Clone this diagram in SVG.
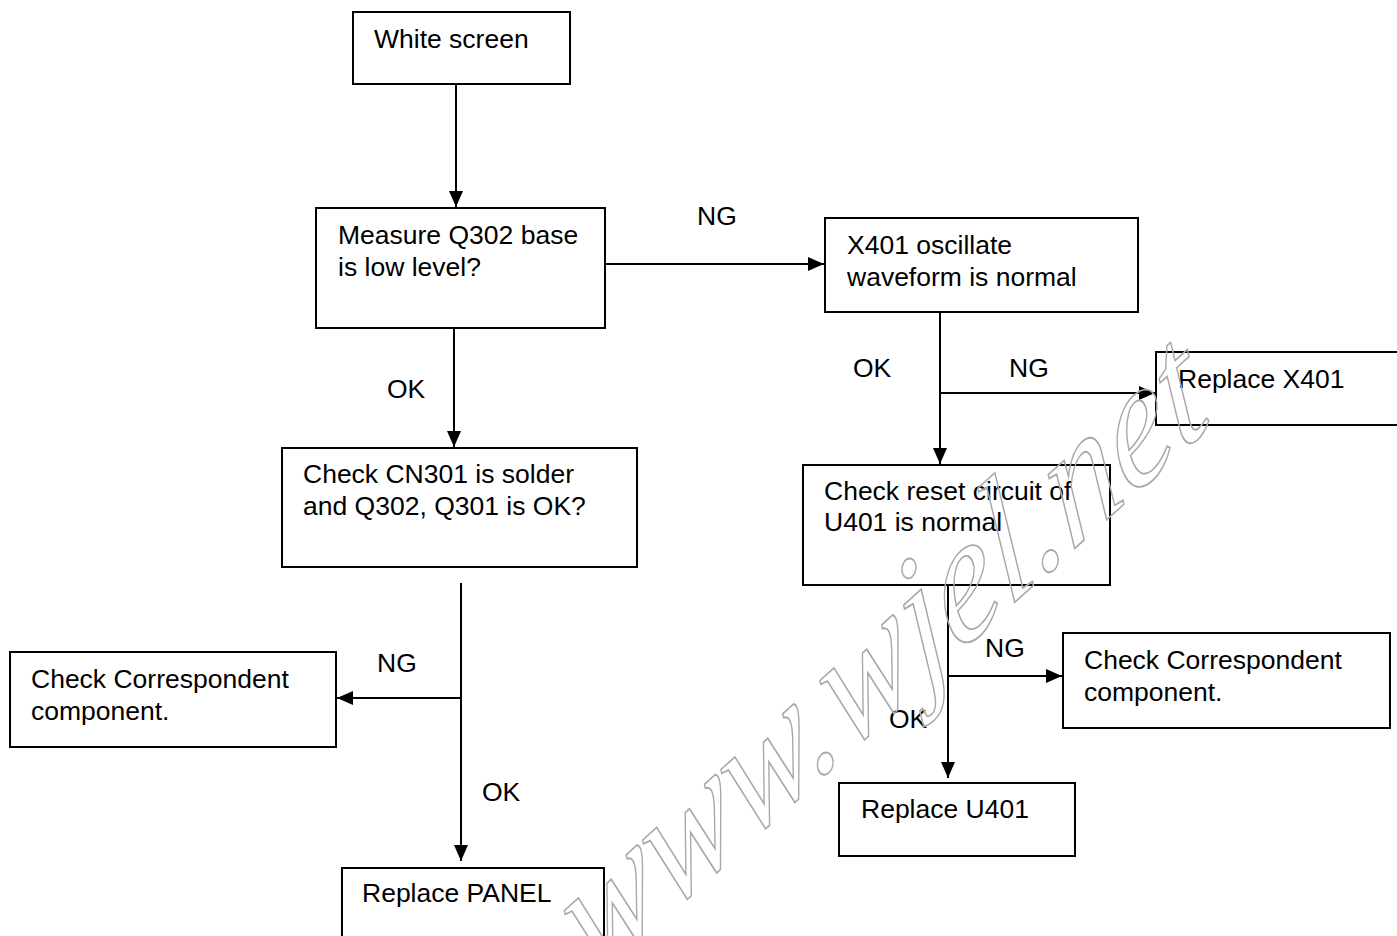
<svg xmlns="http://www.w3.org/2000/svg" width="1397" height="936" viewBox="0 0 1397 936">
<defs>
<style>
.box{fill:#fff;stroke:#000;stroke-width:2}
.t{font-family:"Liberation Sans",Arial,sans-serif;font-size:26.5px;fill:#000}
.c{stroke:#000;stroke-width:2;fill:none}
.wm{font-family:"Liberation Serif",serif;font-style:italic;font-size:158px;fill:none;stroke:#a8a8a8;stroke-width:1.6}
</style>
<marker id="ah" viewBox="0 0 16 14" refX="16" refY="7" markerWidth="16" markerHeight="14" markerUnits="userSpaceOnUse" orient="auto">
<path d="M0,0 L16,7 L0,14 Z" fill="#000"/>
</marker>
</defs>
<rect width="1397" height="936" fill="#fff"/>
<g id="connectors">
<line class="c" x1="456" y1="85" x2="456" y2="207" marker-end="url(#ah)"/>
<line class="c" x1="605" y1="264" x2="824" y2="264" marker-end="url(#ah)"/>
<line class="c" x1="454" y1="329" x2="454" y2="447" marker-end="url(#ah)"/>
<line class="c" x1="940" y1="313" x2="940" y2="464" marker-end="url(#ah)"/>
<line class="c" x1="940" y1="393" x2="1155" y2="393" marker-end="url(#ah)"/>
<line class="c" x1="461" y1="583" x2="461" y2="861" marker-end="url(#ah)"/>
<line class="c" x1="461" y1="698" x2="337" y2="698" marker-end="url(#ah)"/>
<line class="c" x1="948" y1="586" x2="948" y2="778" marker-end="url(#ah)"/>
<line class="c" x1="948" y1="676" x2="1062" y2="676" marker-end="url(#ah)"/>
<text class="t" x="697" y="225">NG</text>
<text class="t" x="387" y="398">OK</text>
<text class="t" x="853" y="377">OK</text>
<text class="t" x="1009" y="377">NG</text>
<text class="t" x="377" y="672">NG</text>
<text class="t" x="482" y="801">OK</text>
<text class="t" x="985" y="657">NG</text>
<text class="t" x="889" y="728">OK</text>
</g>
<g id="white-screen">
<rect class="box" x="353" y="12" width="217" height="72"/>
<text class="t" x="374" y="48">White screen</text>
</g>
<g id="measure-q302">
<rect class="box" x="316" y="208" width="289" height="120"/>
<text class="t" x="338" y="244">Measure Q302 base</text>
<text class="t" x="338" y="276">is low level?</text>
</g>
<g id="x401-oscillate">
<rect class="box" x="825" y="218" width="313" height="94"/>
<text class="t" x="847" y="254">X401 oscillate</text>
<text class="t" x="847" y="286">waveform is normal</text>
</g>
<g id="replace-x401">
<rect class="box" x="1156" y="352" width="260" height="73"/>
<text class="t" x="1178" y="388">Replace X401</text>
</g>
<g id="check-cn301">
<rect class="box" x="282" y="448" width="355" height="119"/>
<text class="t" x="303" y="483">Check CN301 is solder</text>
<text class="t" x="303" y="515">and Q302, Q301 is OK?</text>
</g>
<g id="check-reset">
<rect class="box" x="803" y="465" width="307" height="120"/>
<text class="t" x="824" y="500">Check reset circuit of</text>
<text class="t" x="824" y="531">U401 is normal</text>
</g>
<g id="check-comp-left">
<rect class="box" x="10" y="652" width="326" height="95"/>
<text class="t" x="31" y="688">Check Correspondent</text>
<text class="t" x="31" y="720">component.</text>
</g>
<g id="check-comp-right">
<rect class="box" x="1063" y="633" width="327" height="95"/>
<text class="t" x="1084" y="669">Check Correspondent</text>
<text class="t" x="1084" y="701">component.</text>
</g>
<g id="replace-u401">
<rect class="box" x="839" y="783" width="236" height="73"/>
<text class="t" x="861" y="818">Replace U401</text>
</g>
<g id="replace-panel">
<rect class="box" x="342" y="868" width="262" height="90"/>
<text class="t" x="362" y="902">Replace PANEL</text>
</g>
<text class="wm" x="0" y="0" transform="translate(590,985) rotate(-42) skewX(-20)">www.wjel.net</text>
</svg>
